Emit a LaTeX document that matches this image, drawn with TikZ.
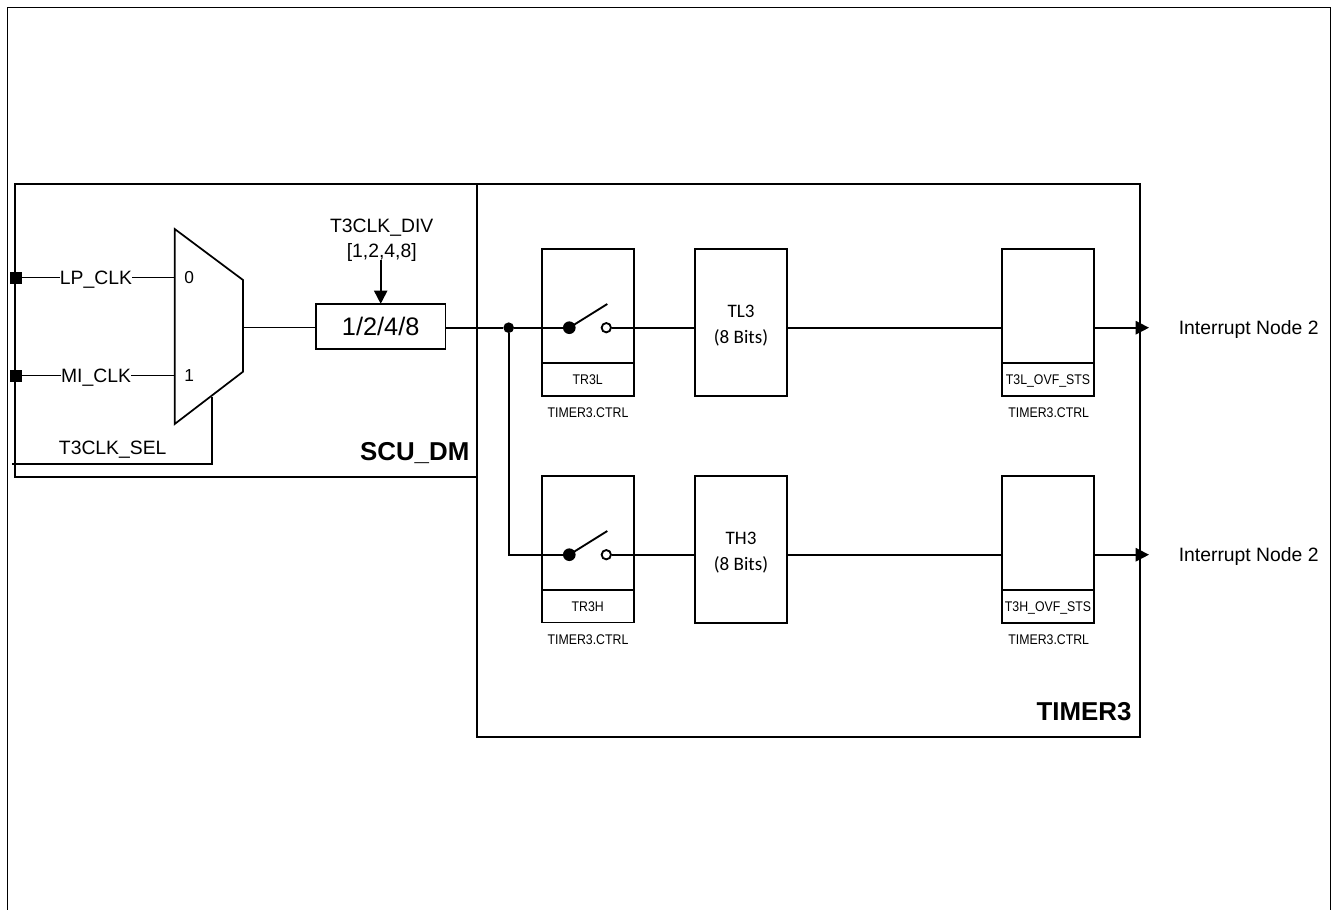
\documentclass[tikz,border=0pt]{standalone}
\usepackage{fontspec}
\setmainfont{Liberation Sans}
\newfontfamily\calibrifont{Carlito}
\newfontfamily\narrowfont[FakeStretch=0.88]{Liberation Sans}
\usetikzlibrary{arrows.meta}
\newcommand{\countertext}[2]{\begin{tabular}{@{}c@{}}\rule{0pt}{17.3pt}#1\\#2\end{tabular}}
\tikzset{
  frame/.style={draw=black,line width=1.6pt,outer sep=0pt,inner sep=0pt},
  wire/.style={draw=black,line width=1.3pt},
  sig/.style={wire,-{Triangle[length=10pt,width=10pt]}},
  box/.style={draw=black,line width=1.25pt,outer sep=0pt,inner sep=0pt,minimum width=69pt,minimum height=109.8pt,fill=white},
  flag/.style={draw=black,line width=1.25pt,outer sep=0pt,inner sep=0pt,minimum width=69pt,minimum height=24.3pt,
    text height=7.5pt,text depth=0pt,font=\narrowfont\fontsize{10.5}{12}\selectfont},
  regname/.style={inner sep=0pt,text height=7.5pt,text depth=0pt,font=\narrowfont\fontsize{10.5}{12}\selectfont},
  main/.style={inner sep=0pt,text height=10.4pt,text depth=0pt,font=\fontsize{14.5}{17}\selectfont},
  small/.style={inner sep=0pt,font=\fontsize{13}{15}\selectfont},
  title/.style={inner sep=0pt,text height=13.9pt,text depth=0pt,font=\bfseries\fontsize{19.4}{23}\selectfont},
  count/.style={draw=black,line width=1.25pt,outer sep=0pt,inner sep=0pt,minimum width=69pt,minimum height=109.8pt,
    font=\calibrifont\fontsize{14.3}{19.3}\selectfont},
  pin/.style={fill=black,inner sep=0pt,minimum size=9pt},
  jdot/.style={circle,fill=black,inner sep=0pt,minimum size=8pt},
  sdot/.style={circle,fill=black,inner sep=0pt,minimum size=9.5pt},
  odot/.style={circle,draw=black,line width=1.4pt,fill=white,inner sep=0pt,minimum size=7pt},
}
\begin{document}
\begin{tikzpicture}[x=0.75pt,y=-0.75pt]
\useasboundingbox (0,0) rectangle (1335,910);
% outer open frame
\coordinate (fa) at (7.5,910);
\coordinate (fb) at (7.5,7.5);
\coordinate (fc) at (1330.5,7.5);
\coordinate (fd) at (1330.5,910);
\draw[draw=black,line width=1.3pt] (fa) -- (fb) -- (fc) -- (fd);
% regions
\node[frame,minimum width=497.6pt,minimum height=415pt] (timer) at (808.3,460.5) {};
\node[frame,minimum width=346.5pt,minimum height=219.75pt] (scu) at (246.3,330.5) {};
\node[title] (scut) at (414.7,451.7) {SCU\_DM};
\node[title] (timt) at (1084,711) {TIMER3};
% inputs
\node[pin] (lp) at (16,277.5) {};
\node[pin] (mi) at (16,375.5) {};
\node[main] (lpl) at (96,277.5) {LP\_CLK};
\node[main] (mil) at (96,375.5) {MI\_CLK};
\coordinate (mxa) at (174.7,229);
\coordinate (mxb) at (243,280);
\coordinate (mxc) at (243,371.7);
\coordinate (mxd) at (174.7,424);
\coordinate (mxo) at (243,327.5);
\draw[draw=black,line width=1.3pt,line join=miter] (mxa) -- (mxb) -- (mxc) -- (mxd) -- cycle;
\node[small] (m0) at (189.3,277.5) {0};
\node[small] (m1) at (189.3,375.5) {1};
\draw[wire] (lp) -- (lpl);
\draw[wire] (mi) -- (mil);
\draw[wire] (lpl) -- (mxa |- lpl);
\draw[wire] (mil) -- (mxa |- mil);
% select
\node[main] (sel) at (112.7,447.7) {T3CLK\_SEL};
\coordinate (sela) at (12,464);
\coordinate (selb) at (212,464);
\coordinate (selc) at (212,397);
\draw[wire] (sela) -- (selb) -- (selc);
% divider
\node[draw=black,line width=1.1pt,inner sep=0pt,outer sep=0pt,minimum width=97pt,minimum height=34pt,
  font=\fontsize{19}{22}\selectfont] (div) at (380.7,326.5) {1/2/4/8};
\node[inner sep=0pt,align=center,font=\fontsize{14.5}{19}\selectfont] (divl) at (381.7,240.3) {T3CLK\_DIV\\{[1,2,4,8]}};
\coordinate (divin) at (380.7,260);
\draw[sig] (divin) -- (div.north);
\draw[wire] (mxo) -- (div.west |- mxo);
% row 1
\coordinate (j1) at (508.7,327.7);
\node[jdot] (jn) at (j1) {};
\node[box,anchor=north west] (r1) at (541.7,249.3) {};
\node[flag,anchor=south west] (r1f) at (r1.south west) {TR3L};
\node[regname] (r1c) at (588,412.7) {TIMER3.CTRL};
\node[sdot] (s1) at (569.3,327.7) {};
\node[odot] (o1) at (606.3,327.7) {};
\coordinate (l1) at (607.3,304);
\node[count] (tl) at (741,322.5) {\countertext{TL3}{(8 Bits)}};
\node[box,anchor=north west] (v1) at (1002,249.3) {};
\node[flag,anchor=south west,line width=1.6pt] (v1f) at (v1.south west) {T3L\_OVF\_STS};
\node[regname] (v1c) at (1048.7,412.7) {TIMER3.CTRL};
\node[main] (i1) at (1248.7,328) {Interrupt Node 2};
\draw[wire] (div.east |- j1) -- (jn);
\draw[wire] (jn) -- (s1);
\draw[wire,line width=1.4pt] (s1.center) -- (l1);
\draw[wire] (o1) -- (tl.west |- o1);
\draw[wire] (tl.east |- o1) -- (v1.west |- o1);
\coordinate (t1) at (1149,327.7);
\draw[sig] (v1.east |- o1) -- (t1);
% row 2
\node[box,anchor=north west] (r2) at (541.7,476.2) {};
\node[flag,anchor=south west] (r2f) at (r2.south west) {TR3H};
\node[regname] (r2c) at (588,639.7) {TIMER3.CTRL};
\node[sdot] (s2) at (569.3,554.7) {};
\node[odot] (o2) at (606.3,554.7) {};
\coordinate (l2) at (607.3,531);
\node[count] (th) at (741,549.5) {\countertext{TH3}{(8 Bits)}};
\node[box,anchor=north west] (v2) at (1002,476.2) {};
\node[flag,anchor=south west,line width=1.6pt] (v2f) at (v2.south west) {T3H\_OVF\_STS};
\node[regname] (v2c) at (1048.7,639.7) {TIMER3.CTRL};
\node[main] (i2) at (1248.7,555) {Interrupt Node 2};
\draw[wire] (jn) |- (s2);
\draw[wire,line width=1.4pt] (s2.center) -- (l2);
\draw[wire] (o2) -- (th.west |- o2);
\draw[wire] (th.east |- o2) -- (v2.west |- o2);
\coordinate (t2) at (1149,554.7);
\draw[sig] (v2.east |- o2) -- (t2);
\end{tikzpicture}
\end{document}
